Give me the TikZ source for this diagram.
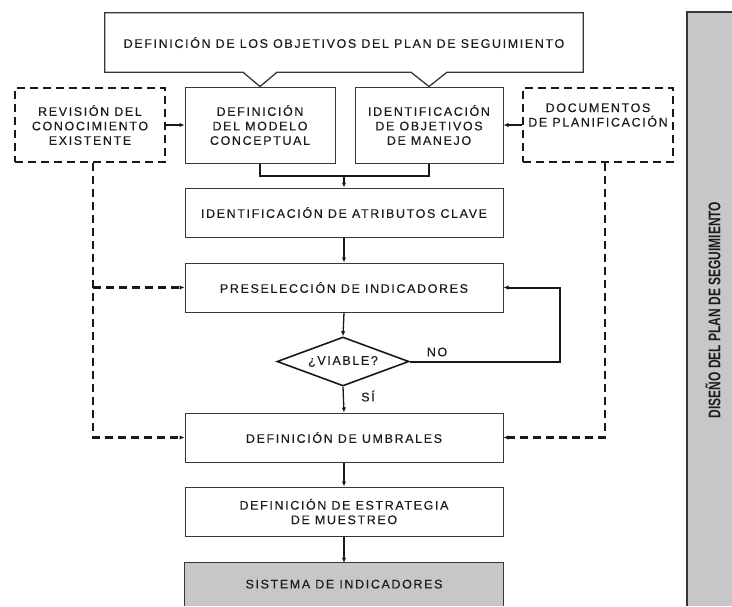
\documentclass[tikz,border=0pt]{standalone}
\usepackage{fontspec}
\setmainfont{Liberation Sans}[LetterSpace=13,FakeBold=0.3]
\newfontfamily\sidefont{Liberation Sans}[LetterSpace=0]
\usetikzlibrary{arrows.meta,shapes.geometric}
\definecolor{txtc}{RGB}{28,28,28}
\definecolor{bdc}{RGB}{55,55,55}
\definecolor{dc}{RGB}{25,25,25}
\definecolor{grayc}{RGB}{199,199,201}
\begin{document}
\begin{tikzpicture}[x=1pt,y=-1pt,
  font=\fontsize{12.5}{14.5}\selectfont, text=txtc,
  box/.style={draw=bdc, line width=1pt, align=center, inner sep=0pt},
  upbox/.style={box, minimum width=150pt, minimum height=76pt},
  wide/.style={box, minimum width=318pt, minimum height=49pt},
  dbox/.style={draw=dc, line width=2.6pt, dash pattern=on 8pt off 5pt, align=center, inner sep=0pt, minimum width=150pt, minimum height=74pt},
  tip/.style={-{Latex[length=5pt,width=4.5pt]}},
  flow/.style={draw=dc, line width=1.3pt, tip},
  dflow/.style={draw=dc, line width=2.6pt, dash pattern=on 8pt off 5pt, tip},
  sflow/.style={draw=dc, line width=2.6pt, tip},
  lbl/.style={inner sep=0pt}]
\useasboundingbox (0,0) rectangle (732,606);

% side bar
\fill[grayc] (687,12) rectangle (732,606);
\draw[bdc, line width=1.2pt] (687,606) -- (687,12) -- (732,12);
\node[rotate=90, lbl, font=\sidefont\bfseries\fontsize{12}{14}\selectfont] (side) at (713,310) {\scalebox{1}[1.4]{DISEÑO DEL PLAN DE SEGUIMIENTO}};

% upper row
\node[upbox] (mod) at (260,125) {DEFINICIÓN\\DEL MODELO\\CONCEPTUAL};
\node[upbox, minimum width=148pt] (obj) at (429,125) {IDENTIFICACIÓN\\DE OBJETIVOS\\DE MANEJO};
\node[dbox] (rev) at (90,125) {REVISIÓN DEL\\CONOCIMIENTO\\EXISTENTE};
\node[dbox] (doc) at (598,125) {};
\node[lbl, align=center] (doct) at (598,115) {DOCUMENTOS\\DE PLANIFICACIÓN};

% top callout
\node[lbl, minimum width=478pt, minimum height=59pt] (top) at (344,42.5) {DEFINICIÓN DE LOS OBJETIVOS DEL PLAN DE SEGUIMIENTO};
\draw[bdc, line width=1.3pt, line join=miter]
  (top.north west) -- (top.north east) -- (top.south east)
  -- ([xshift=18pt]top.south -| obj.north) -- (obj.north) -- ([xshift=-18pt]top.south -| obj.north)
  -- ([xshift=17pt]top.south -| mod.north) -- (mod.north) -- ([xshift=-17pt]top.south -| mod.north)
  -- (top.south west) -- cycle;

% main column
\node[wide] (atr) at (344,212.5) {IDENTIFICACIÓN DE ATRIBUTOS CLAVE};
\node[wide] (pre) at (344,287.5) {PRESELECCIÓN DE INDICADORES};
\node[diamond, draw=dc, line width=1.6pt, inner sep=0pt, aspect=2.7, minimum width=132pt, minimum height=49pt] (dia) at (343,361.5) {¿VIABLE?};
\node[wide] (umb) at (344,437.5) {DEFINICIÓN DE UMBRALES};
\node[wide] (est) at (344,511.5) {DEFINICIÓN DE ESTRATEGIA\\DE MUESTREO};
\node[lbl, fill=grayc, minimum width=318pt, minimum height=43pt, text height=8pt] (sis) at (344,584.5) {SISTEMA DE INDICADORES};
\draw[bdc, line width=1.2pt] (sis.south west) -- (sis.north west) -- (sis.north east) -- (sis.south east);

\node[lbl] (no) at (437,352) {NO};
\node[lbl] (si) at (368,396) {SÍ};

% connectors
\draw[sflow] (rev.east) -- (mod.west);
\draw[sflow] (doc.west) -- (obj.east);
\coordinate (m) at (344,176);
\draw[dc, line width=1.3pt] (mod.south) |- (m);
\draw[dc, line width=1.3pt] (obj.south) |- (m);
\draw[flow] (m) -- (atr.north);
\draw[flow] (atr.south) -- (pre.north);
\draw[flow] (pre.south) -- (dia.north);
\coordinate (nl) at (560,361.5);
\draw[dc, line width=2pt, tip] (dia.east) -- (nl) |- (pre.east);
\draw[flow] (dia.south) -- (umb.north);
\draw[flow] (umb.south) -- (est.north);
\draw[flow] (est.south) -- (sis.north);

\coordinate (lv) at ([xshift=3pt]rev.south);
\coordinate (rv) at ([xshift=7pt]doc.south);
\draw[dflow] (lv) |- (umb.west);
\draw[dflow] (lv |- pre.west) -- (pre.west);
\draw[dflow] (rv) |- (umb.east);
\end{tikzpicture}
\end{document}
